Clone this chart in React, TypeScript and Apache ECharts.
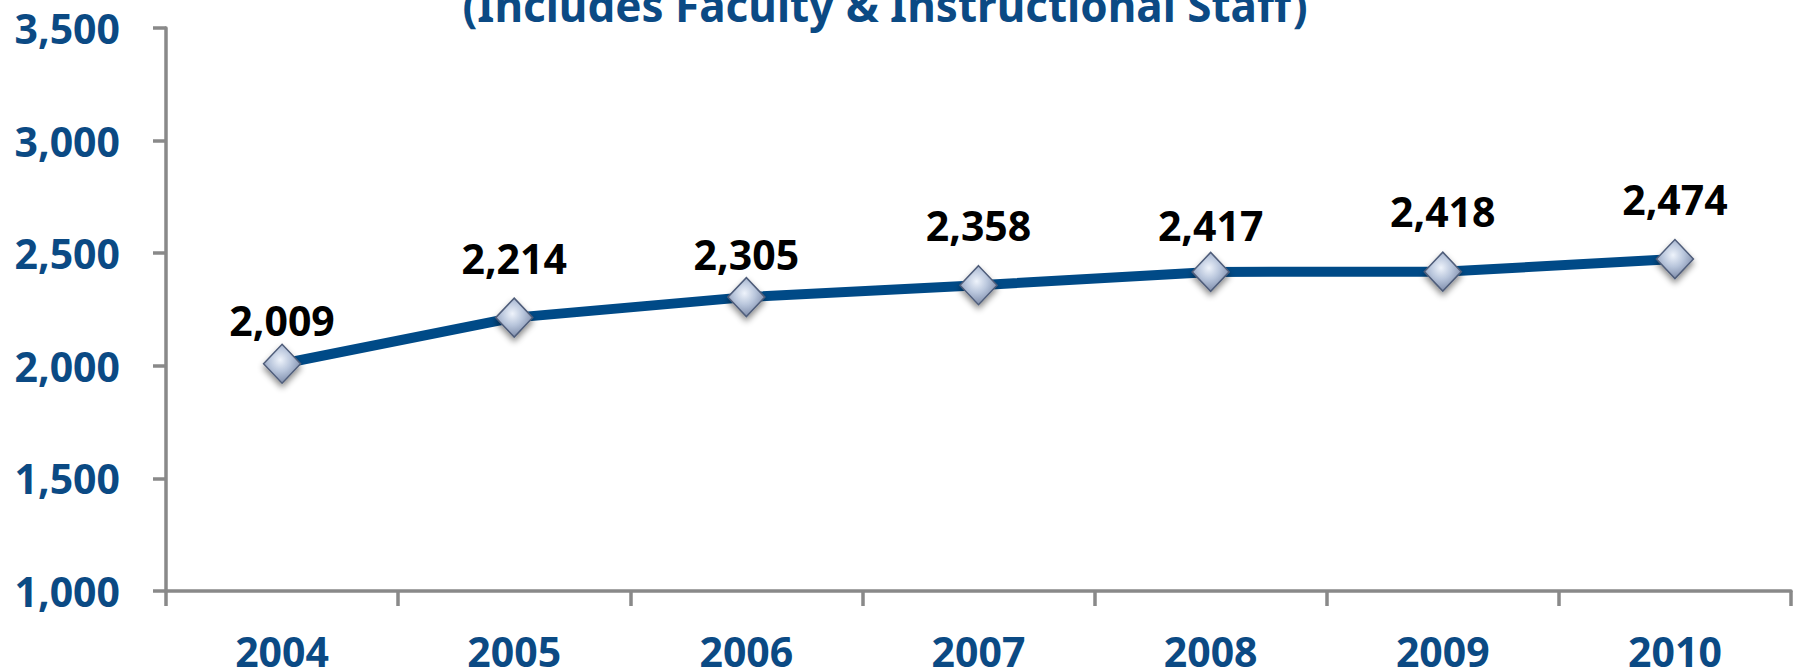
import React, { useEffect, useRef } from "react";
import * as echarts from "echarts";

const years = ["2004", "2005", "2006", "2007", "2008", "2009", "2010"];
const employees = [2009, 2214, 2305, 2358, 2417, 2418, 2474];
// vertical lift (px) of each value label above its marker, as placed in the reference
const labelLift = [40, 55, 39, 56, 43, 56, 56];
const titleText = "(Includes Faculty & Instructional Staff)";

const BLUE = "#0b4a84";
const LINE = "#004a87";
const AXIS = "#898989";
const FONT = "'Noto Sans', 'Open Sans', sans-serif";
const FS = 41;

const fmt = (v: number) => v.toLocaleString("en-US");

export default function App() {
  const ref = useRef<HTMLDivElement>(null);
  useEffect(() => {
    if (!ref.current) return;
    const chart = echarts.init(ref.current, undefined, { renderer: "svg" });
    chart.setOption({
      animation: false,
      backgroundColor: "#ffffff",
      graphic: [
        {
          type: "text",
          x: 885,
          y: 5,
          style: {
            text: titleText,
            font: `bold 44px ${FONT}`,
            fill: BLUE,
            textAlign: "center",
            textVerticalAlign: "middle",
          },
        },
      ],
      grid: { left: 166, right: 7, top: 28, bottom: 81, containLabel: false },
      xAxis: {
        type: "category",
        data: years,
        boundaryGap: true,
        axisLine: { show: true, lineStyle: { color: AXIS, width: 3.5 } },
        axisTick: { show: true, inside: false, length: 15, alignWithLabel: false, interval: 0, lineStyle: { color: AXIS, width: 3.5 } },
        axisLabel: {
          interval: 0,
          margin: 39,
          color: BLUE,
          fontFamily: FONT,
          fontWeight: "bold",
          fontSize: FS,
        },
        splitLine: { show: false },
      },
      yAxis: {
        type: "value",
        min: 1000,
        max: 3500,
        interval: 500,
        axisLine: { show: true, lineStyle: { color: AXIS, width: 3.5 } },
        axisTick: { show: true, inside: false, length: 13, lineStyle: { color: AXIS, width: 3.5 } },
        axisLabel: {
          margin: 46,
          color: BLUE,
          fontFamily: FONT,
          fontWeight: "bold",
          fontSize: FS,
          formatter: (v: number) => fmt(v),
        },
        splitLine: { show: false },
      },
      series: [
        {
          type: "line",
          data: employees.map((v, i) => ({
            value: v,
            label: { distance: labelLift[i] - FS / 2 - 16 },
          })),
          lineStyle: { color: LINE, width: 10 },
          symbol: "diamond",
          symbolSize: [37, 39],
          showAllSymbol: true,
          itemStyle: {
            color: {
              type: "radial",
              x: 0.45,
              y: 0.4,
              r: 0.65,
              colorStops: [
                { offset: 0, color: "#eef3fb" },
                { offset: 0.45, color: "#b9c6dc" },
                { offset: 1, color: "#7483a3" },
              ],
            },
            borderColor: "#4f5d7a",
            borderWidth: 1.5,
            shadowBlur: 6,
            shadowColor: "rgba(0,0,0,0.45)",
            shadowOffsetY: 4,
          },
          label: {
            show: true,
            position: "top",
            color: "#000000",
            fontFamily: FONT,
            fontWeight: "bold",
            fontSize: FS,
            lineHeight: FS,
            formatter: (p: any) => fmt(p.value),
          },
          z: 3,
        },
      ],
    });
    return () => chart.dispose();
  }, []);
  return (
    <div
      ref={ref}
      style={{ position: "fixed", left: 0, top: 0, width: 1798, height: 672 }}
    />
  );
}
